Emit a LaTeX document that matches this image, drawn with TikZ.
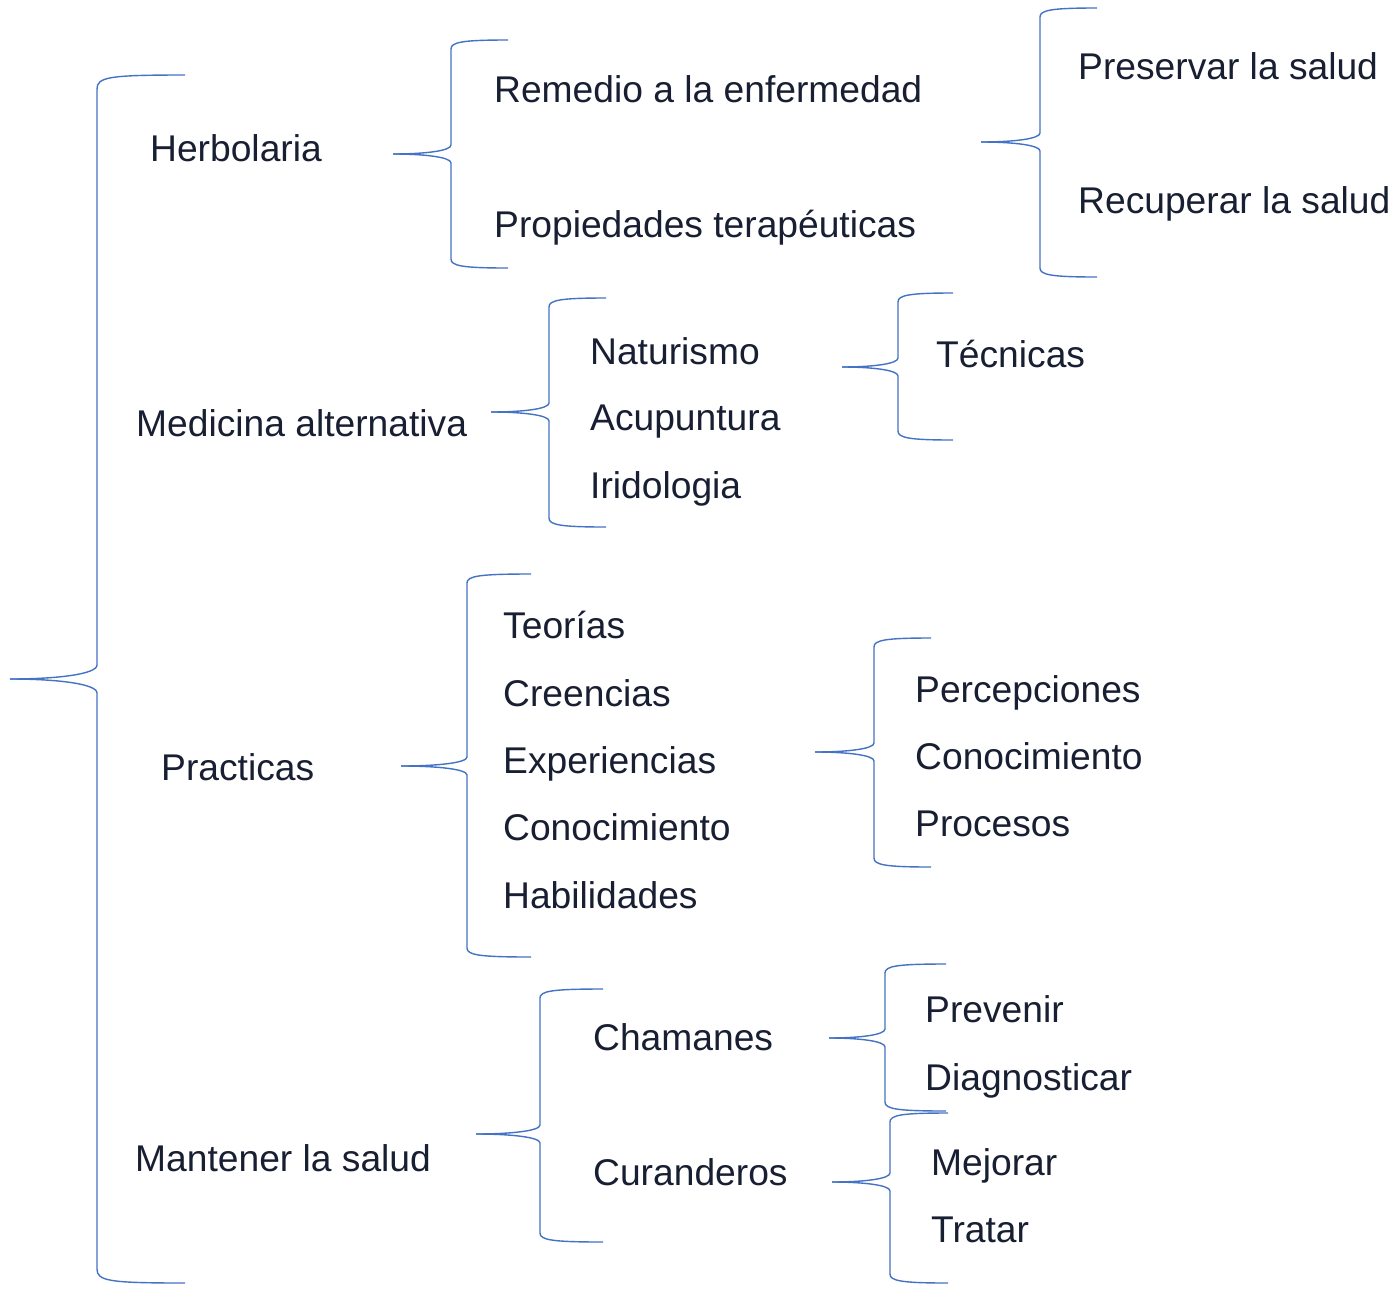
\documentclass[tikz,border=0pt]{standalone}
\usepackage{fontspec}
\setmainfont{Liberation Sans}
\definecolor{brc}{RGB}{68,114,196}
\definecolor{txc}{RGB}{24,31,50}
\newcommand\mybrace[7]{% tip x, mid y, vertical x, top y, bottom y, end x, r
  \draw[brline] (#1,#2) .. controls ({#1+0.55*(#3-#1)},#2) and (#3,{#2-0.35*#7}) .. (#3,{#2-#7})
     -- (#3,{#4+#7}) .. controls (#3,{#4+2}) and ({#3+12},#4) .. (#6,#4);
  \draw[brline] (#1,#2) .. controls ({#1+0.55*(#3-#1)},#2) and (#3,{#2+0.35*#7}) .. (#3,{#2+#7})
     -- (#3,{#5-#7}) .. controls (#3,{#5-2}) and ({#3+12},#5) .. (#6,#5);}
\begin{document}
\begin{tikzpicture}[x=1pt,y=-1pt,
  brline/.style={draw=brc,line width=1.4pt},
  lbl/.style={anchor=base west,inner sep=0pt,text=txc,font=\fontsize{37.2}{40}\selectfont}]
\useasboundingbox[fill=white] (0,0) rectangle (1395,1291);
% braces
\mybrace{10}{679}{97}{75}{1283}{185}{14}
\mybrace{393}{154}{451}{40}{268}{508}{9}
\mybrace{981}{142}{1040}{8}{277}{1097}{9}
\mybrace{491}{412}{549}{298}{527}{606}{9}
\mybrace{842}{367}{898}{293}{440}{953}{9}
\mybrace{401}{766}{467}{574}{957}{531}{9}
\mybrace{815}{752}{874}{638}{867}{931}{9}
\mybrace{476}{1134}{540}{989}{1242}{603}{9}
\mybrace{829}{1038}{885}{964}{1111}{946}{9}
\mybrace{832}{1182}{890}{1113}{1283}{948}{9}
% labels
\node[lbl] (herb) at (150,161) {Herbolaria};
\node[lbl] (rem) at (494,102) {Remedio a la enfermedad};
\node[lbl] (prop) at (494,237) {Propiedades terapéuticas};
\node[lbl] (pres) at (1078,79) {Preservar la salud};
\node[lbl] (recu) at (1078,213) {Recuperar la salud};
\node[lbl] (med) at (136,436) {Medicina alternativa};
\node[lbl] (nat) at (590,364) {Naturismo};
\node[lbl] (acu) at (590,430) {Acupuntura};
\node[lbl] (iri) at (590,498) {Iridologia};
\node[lbl] (tec) at (936,367) {Técnicas};
\node[lbl] (prac) at (161,780) {Practicas};
\node[lbl] (teo) at (503,638) {Teorías};
\node[lbl] (cre) at (503,706) {Creencias};
\node[lbl] (exp) at (503,773) {Experiencias};
\node[lbl] (con1) at (503,840) {Conocimiento};
\node[lbl] (hab) at (503,908) {Habilidades};
\node[lbl] (per) at (915,702) {Percepciones};
\node[lbl] (con2) at (915,769) {Conocimiento};
\node[lbl] (pro) at (915,836) {Procesos};
\node[lbl] (man) at (135,1171) {Mantener la salud};
\node[lbl] (cha) at (593,1050) {Chamanes};
\node[lbl] (cur) at (593,1185) {Curanderos};
\node[lbl] (prev) at (925,1022) {Prevenir};
\node[lbl] (diag) at (925,1090) {Diagnosticar};
\node[lbl] (mej) at (931,1175) {Mejorar};
\node[lbl] (tra) at (931,1242) {Tratar};
\end{tikzpicture}
\end{document}
